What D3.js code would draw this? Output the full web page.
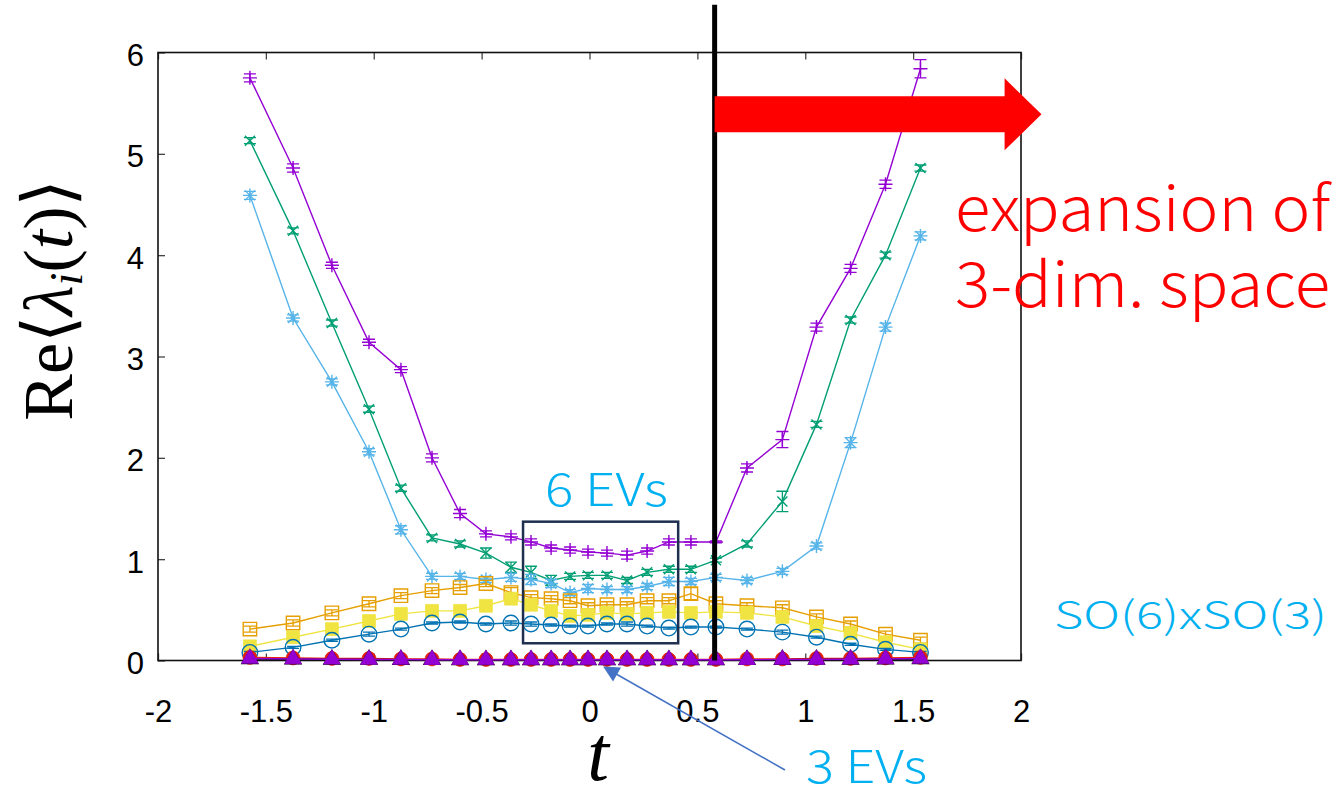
<!DOCTYPE html>
<meta charset="utf-8">
<title>Re lambda_i(t)</title>
<style>
  body { margin: 0; background: #fff; }
  svg { display: block; }
  .tick text { font-family: "Liberation Sans", Arial, sans-serif; font-size: 31px; fill: #000; }
  .tick line { stroke: #444; stroke-width: 1.3px; }
  .note { font-family: "Noto Sans CJK JP", "Noto Sans", sans-serif; font-weight: 300; }
</style>
<body>
<script src="https://cdnjs.cloudflare.com/ajax/libs/d3/7.8.5/d3.min.js"></script>
<script>
// t values (x axis)
var tValues = [-1.574, -1.374, -1.194, -1.022, -0.874, -0.730, -0.600, -0.480, -0.364, -0.271,
               -0.178, -0.090, -0.007, 0.081, 0.174, 0.267, 0.368, 0.470, 0.586, 0.730,
               0.894, 1.052, 1.210, 1.372, 1.534];

// eigenvalues, largest first
var ev1 = [5.75, 4.86, 3.90, 3.14, 2.87, 2.00, 1.45, 1.25, 1.22, 1.17, 1.11, 1.09, 1.07, 1.06, 1.04, 1.08, 1.17, 1.17, 1.17, 1.90, 2.18, 3.29, 3.87, 4.70, 5.84];
var ev2 = [5.13, 4.24, 3.33, 2.48, 1.70, 1.21, 1.15, 1.06, 0.92, 0.87, 0.79, 0.83, 0.84, 0.84, 0.79, 0.87, 0.90, 0.90, 0.99, 1.15, 1.57, 2.33, 3.36, 4.00, 4.86];
var ev3 = [4.59, 3.38, 2.75, 2.06, 1.29, 0.83, 0.83, 0.80, 0.82, 0.80, 0.76, 0.67, 0.71, 0.70, 0.70, 0.73, 0.78, 0.78, 0.82, 0.79, 0.88, 1.13, 2.15, 3.29, 4.19];
var ev4 = [0.31, 0.37, 0.47, 0.56, 0.64, 0.69, 0.72, 0.76, 0.67, 0.62, 0.61, 0.59, 0.54, 0.55, 0.55, 0.59, 0.59, 0.66, 0.56, 0.54, 0.52, 0.43, 0.36, 0.26, 0.20];
var ev5 = [0.14, 0.23, 0.31, 0.39, 0.46, 0.49, 0.49, 0.54, 0.61, 0.55, 0.49, 0.44, 0.45, 0.47, 0.46, 0.47, 0.48, 0.47, 0.48, 0.47, 0.43, 0.34, 0.27, 0.18, 0.11];
var ev6 = [0.08, 0.13, 0.20, 0.26, 0.31, 0.37, 0.38, 0.36, 0.37, 0.36, 0.35, 0.34, 0.34, 0.36, 0.36, 0.34, 0.32, 0.33, 0.33, 0.31, 0.28, 0.23, 0.16, 0.11, 0.08];
var ev7 = [0.03, 0.025, 0.02, 0.02, 0.015, 0.015, 0.01, 0.01, 0.01, 0.01, 0.01, 0.01, 0.01, 0.01, 0.01, 0.01, 0.01, 0.01, 0.01, 0.015, 0.015, 0.02, 0.02, 0.025, 0.03];
var ev8 = [0.015, 0.012, 0.01, 0.01, 0.008, 0.007, 0.006, 0.005, 0.005, 0.005, 0.005, 0.005, 0.005, 0.005, 0.005, 0.005, 0.005, 0.005, 0.005, 0.007, 0.008, 0.01, 0.01, 0.012, 0.015];
var ev9 = [0.02, 0.015, 0.012, 0.01, 0.01, 0.008, 0.008, 0.007, 0.007, 0.007, 0.007, 0.007, 0.007, 0.007, 0.007, 0.007, 0.007, 0.007, 0.007, 0.008, 0.01, 0.01, 0.012, 0.015, 0.02];

// error bars
var err1 = [0.04, 0.04, 0.03, 0.03, 0.03, 0.04, 0.04, 0.03, 0.03, 0.03, 0.03, 0.03, 0.03, 0.03, 0.04, 0.03, 0.03, 0.03, 0.01, 0.04, 0.08, 0.04, 0.04, 0.04, 0.09];
var err2 = [0.03, 0.03, 0.03, 0.03, 0.03, 0.03, 0.03, 0.05, 0.05, 0.06, 0.05, 0.03, 0.03, 0.03, 0.03, 0.03, 0.03, 0.03, 0.02, 0.03, 0.10, 0.03, 0.03, 0.03, 0.03];
var err3 = [0.04, 0.03, 0.03, 0.03, 0.04, 0.03, 0.03, 0.03, 0.04, 0.05, 0.04, 0.03, 0.04, 0.03, 0.03, 0.03, 0.04, 0.03, 0.03, 0.03, 0.03, 0.03, 0.05, 0.04, 0.04];
var err4 = [0.03, 0.03, 0.03, 0.03, 0.03, 0.03, 0.03, 0.03, 0.05, 0.03, 0.03, 0.03, 0.03, 0.03, 0.03, 0.03, 0.03, 0.06, 0.03, 0.03, 0.03, 0.03, 0.03, 0.03, 0.03];
var err5 = ev5.map(function() { return 0.01; });
var err6 = [0.01, 0.01, 0.01, 0.02, 0.01, 0.01, 0.01, 0.01, 0.02, 0.02, 0.01, 0.01, 0.01, 0.01, 0.02, 0.01, 0.01, 0.01, 0.01, 0.01, 0.02, 0.01, 0.01, 0.01, 0.01];

var xTicks = [-2, -1.5, -1, -0.5, 0, 0.5, 1, 1.5, 2];
var yTicks = [0, 1, 2, 3, 4, 5, 6];

var series = [
  {vals: ev1, err: err1, color: "#9400d3", mark: "plus"},
  {vals: ev2, err: err2, color: "#009e73", mark: "cross"},
  {vals: ev3, err: err3, color: "#56b4e9", mark: "star"},
  {vals: ev4, err: err4, color: "#e69f00", mark: "square"},
  {vals: ev5, err: err5, color: "#f0e442", mark: "squareFilled"},
  {vals: ev6, err: err6, color: "#0072b2", mark: "circle"},
  {vals: ev7, err: null, color: "#e51e10", mark: "dot"},
  {vals: ev8, err: null, color: "#000000", mark: "triangle"},
  {vals: ev9, err: null, color: "#9400d3", mark: "triangleFilled"}
];

var width = 1332, height = 793;
var x = d3.scaleLinear().domain([-2, 2]).range([158, 1021]);
var y = d3.scaleLinear().domain([0, 6]).range([660.5, 52.5]);

var svg = d3.select("body").append("svg")
    .attr("width", width)
    .attr("height", height);

// axes
svg.append("g")
    .attr("transform", "translate(158,0)")
    .call(d3.axisLeft(y).tickValues(yTicks).tickSize(-7).tickPadding(14).tickFormat(d3.format("d")))
    .call(function(g) { g.select(".domain").remove(); g.selectAll("text").attr("dy", "0.42em"); });

svg.append("g")
    .attr("transform", "translate(0,660.5)")
    .call(d3.axisBottom(x).tickValues(xTicks).tickSize(-7).tickPadding(39).tickFormat(function(d) { return String(d); }))
    .call(function(g) { g.select(".domain").remove(); });

svg.append("g")
    .attr("transform", "translate(0,52.5)")
    .call(d3.axisTop(x).tickValues(xTicks).tickSize(-7).tickFormat(""))
    .call(function(g) { g.select(".domain").remove(); });

// frame
svg.append("rect")
    .attr("x", x(-2)).attr("y", y(6))
    .attr("width", x(2) - x(-2)).attr("height", y(0) - y(6))
    .attr("fill", "none").attr("stroke", "#111").attr("stroke-width", 1.6);

// marker shapes
function markerPath(type) {
  switch (type) {
    case "plus": return "M-7,0H7M0,-7V7";
    case "cross": return "M-5,-5L5,5M-5,5L5,-5";
    case "star": return "M-7,0H7M0,-7V7M-5,-5L5,5M-5,5L5,-5";
    case "square": return d3.symbol(d3.symbolSquare, 180)();
    case "squareFilled": return d3.symbol(d3.symbolSquare, 165)();
    case "circle": return d3.symbol(d3.symbolCircle, 190)();
    case "dot": return d3.symbol(d3.symbolCircle, 150)();
    case "triangle": return d3.symbol(d3.symbolTriangle, 110)();
    case "triangleFilled": return d3.symbol(d3.symbolTriangle, 120)();
  }
}

var line = d3.line()
    .x(function(d) { return x(d.t); })
    .y(function(d) { return y(d.v); });

series.forEach(function(s) {
  var pts = tValues.map(function(t, i) { return {t: t, v: s.vals[i], e: s.err ? s.err[i] : 0}; });
  var g = svg.append("g");

  g.append("path")
      .datum(pts)
      .attr("d", line)
      .attr("fill", "none")
      .attr("stroke", s.color)
      .attr("stroke-width", 1.4);

  if (s.err) {
    g.selectAll(".eb").data(pts).enter().append("path")
        .attr("d", function(d) {
          var cx = x(d.t), y0 = y(d.v - d.e), y1 = y(d.v + d.e);
          return "M" + cx + "," + y0 + "V" + y1 +
                 "M" + (cx - 6) + "," + y0 + "H" + (cx + 6) +
                 "M" + (cx - 6) + "," + y1 + "H" + (cx + 6);
        })
        .attr("fill", "none")
        .attr("stroke", s.color)
        .attr("stroke-width", 1.3);
  }

  var filled = (s.mark === "squareFilled" || s.mark === "dot" || s.mark === "triangleFilled");
  g.selectAll(".mk").data(pts).enter().append("path")
      .attr("transform", function(d) { return "translate(" + x(d.t) + "," + y(d.v) + ")"; })
      .attr("d", markerPath(s.mark))
      .attr("fill", filled ? s.color : "none")
      .attr("stroke", s.color)
      .attr("stroke-width", filled ? 0.8 : 1.4);
});

// annotations
var cyan = "#00b0f0";

// vertical divider
svg.append("line")
    .attr("x1", x(0.58)).attr("x2", x(0.58))
    .attr("y1", y(6.47)).attr("y2", y(0))
    .attr("stroke", "#000").attr("stroke-width", 5);

// red arrow
var ax0 = x(0.58), ax1 = x(1.924), axTip = x(2.095), ay = y(5.39);
svg.append("path")
    .attr("d", "M" + ax0 + "," + (ay - 18) + "H" + ax1 + "V" + (ay - 36) + "L" + axTip + "," + ay +
               "L" + ax1 + "," + (ay + 36) + "V" + (ay + 18) + "H" + ax0 + "Z")
    .attr("fill", "#ff0000");

function note(txt, px, py, size, len, color) {
  return svg.append("text").attr("class", "note")
      .attr("x", px).attr("y", py)
      .attr("fill", color).style("font-size", size + "px")
      .attr("textLength", len).attr("lengthAdjust", "spacingAndGlyphs")
      .text(txt);
}

note("expansion of", 955, 231, 62, 375, "#ff0000");
note("3-dim. space", 955, 307, 62, 375, "#ff0000");

// 6 EVs box
svg.append("rect")
    .attr("x", x(-0.308)).attr("y", y(1.37))
    .attr("width", x(0.411) - x(-0.308)).attr("height", y(0.17) - y(1.37))
    .attr("fill", "none").attr("stroke", "#1f2f4f").attr("stroke-width", 2.5);

note("6 EVs", 545, 506, 45, 123, cyan);

// 3 EVs arrow
var tipX = x(0.063), tipY = y(-0.06), tailX = 785, tailY = 770;
var ang = Math.atan2(tipY - tailY, tipX - tailX);
svg.append("line")
    .attr("x1", tailX).attr("y1", tailY)
    .attr("x2", tipX - 12 * Math.cos(ang)).attr("y2", tipY - 12 * Math.sin(ang))
    .attr("stroke", "#4472c4").attr("stroke-width", 1.5);
svg.append("path")
    .attr("transform", "translate(" + tipX + "," + tipY + ") rotate(" + (ang * 180 / Math.PI) + ")")
    .attr("d", "M0,0L-16,-8L-16,8Z")
    .attr("fill", "#4472c4");

note("3 EVs", 806, 783, 45, 121, cyan);
note("SO(6)xSO(3)", 1054, 629, 38, 273, cyan);

// axis titles
var yl = svg.append("text")
    .attr("transform", "translate(72,300) rotate(-90)")
    .attr("text-anchor", "middle")
    .style("font-family", "'Liberation Serif', 'DejaVu Serif', serif")
    .style("font-size", "70px");
yl.append("tspan").text("Re\u27e8");
yl.append("tspan").style("font-style", "italic").text("\u03bb");
yl.append("tspan").style("font-style", "italic").style("font-size", "46px").attr("dy", 10).text("i");
yl.append("tspan").attr("dy", -10).text("(");
yl.append("tspan").style("font-style", "italic").text("t");
yl.append("tspan").text(")\u27e9");

svg.append("text")
    .attr("x", 598).attr("y", 780)
    .attr("text-anchor", "middle")
    .style("font-family", "'Liberation Serif', 'DejaVu Serif', serif")
    .style("font-style", "italic")
    .style("font-size", "78px")
    .text("t");
</script>
</body>
